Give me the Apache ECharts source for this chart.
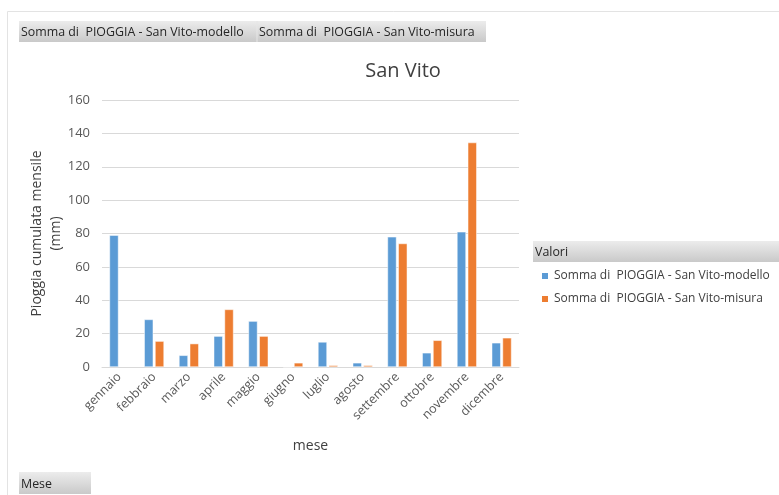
<!DOCTYPE html>
<html><head><meta charset="utf-8">
<script src="https://cdn.jsdelivr.net/npm/echarts@6/dist/echarts.min.js"></script>
<style>html,body{margin:0;padding:0;background:#fff}#c{width:779px;height:495px}</style>
</head><body><div id="c"></div>
<script>
const categories = ['gennaio','febbraio','marzo','aprile','maggio','giugno','luglio','agosto','settembre','ottobre','novembre','dicembre'];
const modello = [79, 28.5, 7, 18.5, 27.5, 0, 15, 2.5, 78, 8.5, 81, 14.5];
const misura = [null, 15.5, 14, 34.5, 18.5, 2.5, 1, 1, 74, 16, 134.5, 17.5];
const seriesNames = ['Somma di  PIOGGIA - San Vito-modello', 'Somma di  PIOGGIA - San Vito-misura'];
const yTicks = [0, 20, 40, 60, 80, 100, 120, 140, 160];

const FONT = '"Open Sans", sans-serif';
const chart = echarts.init(document.getElementById('c'), null, {renderer: 'canvas'});
const grayGrad = {type: 'linear', x: 0, y: 0, x2: 0, y2: 1, colorStops: [{offset: 0, color: '#ececec'}, {offset: 1, color: '#c9c9c9'}]};
chart.setOption({
  backgroundColor: '#fff',
  animation: false,
  textStyle: {fontFamily: FONT},
  title: {text: 'San Vito', left: 398, top: 56, textAlign: 'center',
    textStyle: {fontFamily: FONT, fontSize: 20, fontWeight: 'normal', color: '#404040'}},
  graphic: [
    {type: 'rect', shape: {x: 7.5, y: 11.5, width: 780, height: 490}, style: {fill: 'none', stroke: '#e3e3e3', lineWidth: 1}},
    {type: 'rect', shape: {x: 19, y: 21, width: 238, height: 21}, style: {fill: grayGrad}},
    {type: 'rect', shape: {x: 257, y: 21, width: 229, height: 21}, style: {fill: grayGrad}},
    {type: 'line', shape: {x1: 257, y1: 21, x2: 257, y2: 42}, style: {stroke: '#e6e6e6', lineWidth: 1}},
    {type: 'text', x: 21, y: 32, style: {text: seriesNames[0], font: '12.4px ' + FONT, fill: '#262626', textVerticalAlign: 'middle'}},
    {type: 'text', x: 259, y: 32, style: {text: seriesNames[1], font: '12.4px ' + FONT, fill: '#262626', textVerticalAlign: 'middle'}},
    {type: 'rect', shape: {x: 533, y: 241, width: 246, height: 21}, style: {fill: grayGrad}},
    {type: 'text', x: 535, y: 252, style: {text: 'Valori', font: '12.4px ' + FONT, fill: '#262626', textVerticalAlign: 'middle'}},
    {type: 'rect', shape: {x: 19, y: 472, width: 72, height: 22}, style: {fill: grayGrad}},
    {type: 'text', x: 21, y: 484, style: {text: 'Mese', font: '12.4px ' + FONT, fill: '#262626', textVerticalAlign: 'middle'}}
  ],
  legend: {
    orient: 'vertical', left: 535, top: 265, itemGap: 11, itemWidth: 8, itemHeight: 8, icon: 'rect',
    textStyle: {fontFamily: FONT, fontSize: 12, color: '#404040'},
    data: seriesNames
  },
  grid: {left: 102, right: 260, top: 100, bottom: 128, containLabel: false},
  xAxis: {
    type: 'category', data: categories, name: 'mese', nameLocation: 'middle', nameGap: 72, nameMoveOverlap: false,
    nameTextStyle: {fontFamily: FONT, fontSize: 14, color: '#404040'},
    axisLine: {lineStyle: {color: '#d9d9d9'}}, axisTick: {show: false},
    axisLabel: {rotate: 45, interval: 0, fontFamily: FONT, fontSize: 12.5, color: '#595959', margin: 8}
  },
  yAxis: {
    type: 'value', min: 0, max: 160, interval: 20,
    name: 'Pioggia cumulata mensile\n(mm)', nameLocation: 'middle', nameGap: 36, nameRotate: 90, nameMoveOverlap: false,
    nameTextStyle: {fontFamily: FONT, fontSize: 14, color: '#404040', lineHeight: 19},
    axisLine: {show: false}, axisTick: {show: false},
    splitLine: {lineStyle: {color: '#d9d9d9'}},
    axisLabel: {fontFamily: FONT, fontSize: 13, color: '#595959', margin: 12}
  },
  series: [
    {name: seriesNames[0], type: 'bar', data: modello, barWidth: 9, barGap: '20%',
      itemStyle: {color: '#5B9BD5', borderColor: '#fff', borderWidth: 0.5}},
    {name: seriesNames[1], type: 'bar', data: misura, barWidth: 9,
      itemStyle: {color: '#ED7D31', borderColor: '#fff', borderWidth: 0.5}}
  ]
});
</script></body></html>
